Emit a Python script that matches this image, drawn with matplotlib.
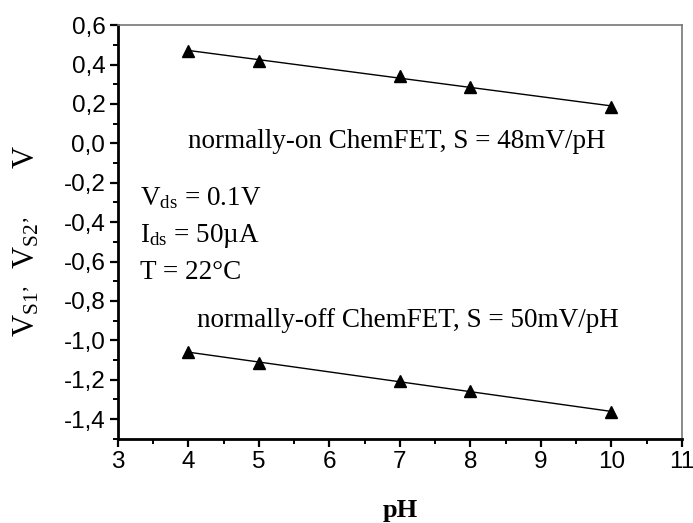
import numpy as np
import matplotlib
matplotlib.use('Agg')
import matplotlib.pyplot as plt
from matplotlib.ticker import FuncFormatter, MultipleLocator

# Data
ph = [4, 5, 7, 8, 10]
v_on = [0.47, 0.42, 0.34, 0.285, 0.185]
v_off = [-1.06, -1.115, -1.205, -1.258, -1.365]

x_ticks = [3, 4, 5, 6, 7, 8, 9, 10, 11]
y_ticks = [-1.4, -1.2, -1.0, -0.8, -0.6, -0.4, -0.2, 0.0, 0.2, 0.4, 0.6]

label_on = 'normally-on ChemFET, S = 48mV/pH'
label_off = 'normally-off ChemFET, S = 50mV/pH'
cond_lines = [r'$\mathregular{V_{ds}}$ = 0.1V',
              r'$\mathregular{I_{ds}}$ = 50µA',
              'T = 22°C']

plt.rcParams['mathtext.fontset'] = 'custom'
plt.rcParams['mathtext.rm'] = 'Liberation Serif'
plt.rcParams['mathtext.it'] = 'Liberation Serif'

serif = 'Liberation Serif'
sans = 'Liberation Sans'

fig = plt.figure(figsize=(6.93, 5.23), dpi=100)
ax = fig.add_axes([0.170, 0.161, 0.814, 0.791])

# fitted lines through each series, markers at the measured points
for v in (v_on, v_off):
    k, b = np.polyfit(ph, v, 1)
    xs = np.array([ph[0], ph[-1]])
    ax.plot(xs, k * xs + b, color='black', lw=1.0)
    ax.plot(ph, v, linestyle='none', marker='^', color='black', markersize=8.5)

ax.set_xlim(3, 11)
ax.set_ylim(-1.5, 0.6)
ax.set_xticks(x_ticks)
ax.set_yticks(y_ticks)
ax.xaxis.set_minor_locator(MultipleLocator(0.5))
ax.yaxis.set_minor_locator(MultipleLocator(0.1))
ax.yaxis.set_major_formatter(FuncFormatter(lambda v, p: ('%.1f' % v).replace('.', ',')))

for lab in ax.get_xticklabels() + ax.get_yticklabels():
    lab.set_fontfamily(sans)
    lab.set_fontsize(17.5)

ax.tick_params(which='major', direction='out', length=6, width=1.6, pad=3)
ax.tick_params(which='minor', direction='out', length=3.5, width=1.4)
ax.tick_params(top=False, right=False, which='both')

for s in ('left', 'bottom'):
    ax.spines[s].set_linewidth(2)
    ax.spines[s].set_color('black')
for s in ('top', 'right'):
    ax.spines[s].set_linewidth(1.2)
    ax.spines[s].set_color('#777777')

ax.set_xlabel('pH', fontfamily=serif, fontsize=19, fontweight='bold')
ax.xaxis.set_label_coords(0.5, -0.145)
ax.set_ylabel(r'$\mathregular{V_{S1’}\ \ V_{S2’}\ \ \ \ \ \ V}$',
              fontfamily=serif, fontsize=22)
ax.yaxis.set_label_coords(-0.135, 0.478)

ax.text(3.99, -0.023, label_on, fontfamily=serif, fontsize=19.5, ha='left', va='baseline')
ax.text(4.13, -0.934, label_off, fontfamily=serif, fontsize=19.5, ha='left', va='baseline')
for i, t in enumerate(cond_lines):
    ax.text(3.31, -0.316 - i * 0.1875, t, fontfamily=serif, fontsize=19.5,
            ha='left', va='baseline')

fig.savefig('out.png', dpi=100)
